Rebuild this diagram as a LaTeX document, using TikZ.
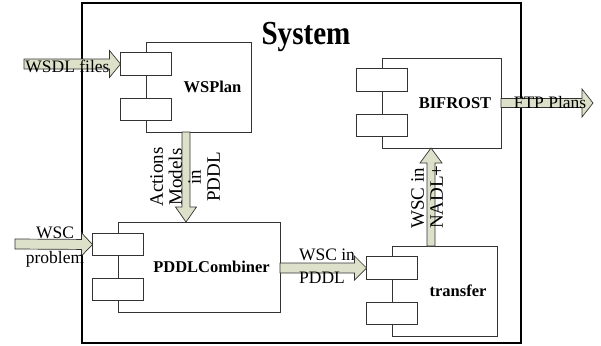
\documentclass[tikz,border=0pt]{standalone}
\usepackage{fontspec}
\setmainfont{Liberation Serif}
\usetikzlibrary{calc}
\definecolor{arrfill}{HTML}{DDE1C9}
\definecolor{edge}{HTML}{333333}
\tikzset{
  comp/.style={draw=edge, line width=0.8pt, fill=white, inner sep=0pt, outer sep=0pt},
  port/.style={draw=edge, line width=0.8pt, fill=white, inner sep=0pt, outer sep=0pt, minimum width=51pt, minimum height=22.5pt},
  clabel/.style={font=\bfseries\fontsize{16.5}{18}\selectfont, inner sep=0pt},
  tlabel/.style={font=\fontsize{17.5}{20}\selectfont, inner sep=0pt},
  rlabel/.style={font=\fontsize{19}{19}\selectfont, inner sep=0pt, rotate=90},
  barrow/.style={draw=edge, line width=0.7pt, fill=arrfill, line join=miter},
  frame/.style={draw=black, line width=1.1pt}
}
\newcommand{\blockarrow}[5]{%
  \coordinate (bah) at ($(#2)!#5!(#1)$);
  \filldraw[barrow] ($(#1)!#3!90:(#2)$) -- ($(bah)!#3!-90:(#1)$) -- ($(bah)!#4!-90:(#1)$) -- (#2) -- ($(bah)!#4!90:(#1)$) -- ($(bah)!#3!90:(#1)$) -- ($(#1)!#3!-90:(#2)$) -- cycle;
}
\begin{document}
\begin{tikzpicture}[x=1pt,y=-1pt]
\useasboundingbox (0,0) rectangle (601,345);
% system frame
\node[frame, minimum width=439pt, minimum height=340pt, inner sep=0pt, outer sep=0pt] (system) at (301.5,173) {};
\node[font=\bfseries\fontsize{30}{32}\selectfont, inner sep=0pt, anchor=base] (systitle) at (306,45) {\scalebox{0.97}[1.12]{System}};

% components
\node[comp, minimum width=105pt, minimum height=90pt] (wsplan) at (198.5,87) {};
\node[port] (wp1) at ($(wsplan.north west)+(0,22)$) {};
\node[port] (wp2) at ($(wsplan.south west)+(0,-22.5)$) {};
\node[clabel] (wsplanL) at (212.5,87) {WSPlan};

\node[comp, minimum width=119pt, minimum height=90pt] (bifrost) at (441.5,103) {};
\node[port] (bp1) at ($(bifrost.north west)+(0,22)$) {};
\node[port] (bp2) at ($(bifrost.south west)+(0,-22.5)$) {};
\node[clabel] (bifrostL) at (455,103) {BIFROST};

\node[comp, minimum width=162pt, minimum height=90pt] (pddl) at (199,267) {};
\node[port] (pp1) at ($(pddl.north west)+(0,22.5)$) {};
\node[port] (pp2) at ($(pddl.south west)+(0,-22.5)$) {};
\node[clabel] (pddlL) at (211.5,267) {PDDLCombiner};

\node[comp, minimum width=105pt, minimum height=90pt] (transfer) at (444.5,291) {};
\node[port] (tp1) at ($(transfer.north west)+(0,22)$) {};
\node[port] (tp2) at ($(transfer.south west)+(0,-22.5)$) {};
\node[clabel] (transferL) at (458,291) {transfer};

% helper coordinates
\coordinate (wsdlin) at (24,64);
\coordinate (ftpout) at (593,103);
\coordinate (wscin) at (15,244);
\coordinate (ax) at (186,177);
\coordinate (nx) at (431,200);

% arrows
\blockarrow{wsdlin}{wp1.west}{5pt}{13.5pt}{11pt}
\blockarrow{bifrost.east}{ftpout}{4.5pt}{14pt}{11pt}
\blockarrow{wsplan.south -| ax}{pddl.north -| ax}{4pt}{10.5pt}{15pt}
\blockarrow{wscin}{pp1.west}{5pt}{11.5pt}{11pt}
\blockarrow{pddl.east |- tp1.west}{tp1.west}{5pt}{12pt}{12pt}
\blockarrow{transfer.north -| nx}{bifrost.south -| nx}{4pt}{11pt}{15pt}

% labels
\node[tlabel] (wsdlL) at (67.5,66) {WSDL files};
\node[tlabel] (ftpL) at (550,103) {FTP Plans};
\node[tlabel, anchor=base] (wscA) at (55,238) {WSC};
\node[tlabel, anchor=base] (wscB) at (55,263) {problem};
\node[tlabel, anchor=base] (wpA) at (327,260) {WSC in};
\node[tlabel, anchor=base] (wpB) at (322,283) {PDDL};
\node[rlabel, align=center] (actL) at (185,177) {Actions\\Models\\in\\PDDL};
\node[rlabel, align=left, anchor=west] (nadlL) at (427,229) {WSC in\\NADL+};
\end{tikzpicture}
\end{document}
